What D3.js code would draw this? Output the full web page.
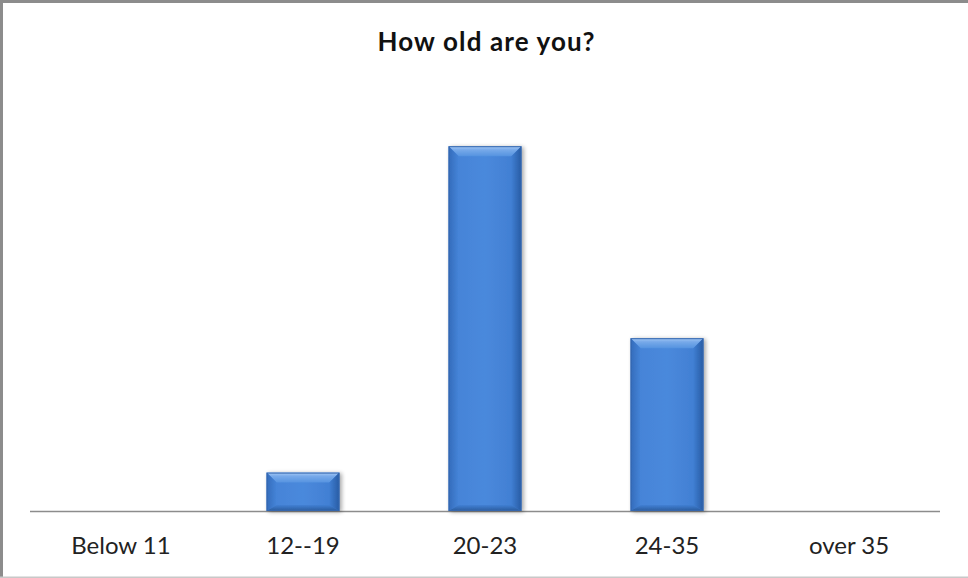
<!DOCTYPE html>
<html><head><meta charset="utf-8">
<script src="https://cdn.jsdelivr.net/npm/d3@7"></script>
<style>body{margin:0;background:#fff}svg{display:block}</style>
</head><body>
<script>
const categories = ["Below 11", "12--19", "20-23", "24-35", "over 35"];
const values = [0, 2, 19, 9, 0];
const title = "How old are you?";

const W = 968, H = 578;
const svg = d3.select("body").append("svg").attr("width", W).attr("height", H);

// frame
svg.append("rect").attr("x",0).attr("y",0).attr("width",W).attr("height",H).attr("fill","#fff");
svg.append("rect").attr("x",0).attr("y",0).attr("width",W).attr("height",3).attr("fill","#8c8c8c");
svg.append("rect").attr("x",0).attr("y",0).attr("width",3).attr("height",H).attr("fill","#8c8c8c");
svg.append("rect").attr("x",0).attr("y",H-1.5).attr("width",W).attr("height",1.5).attr("fill","#c8c8c8");

const x = d3.scaleBand().domain(categories).range([30, 940]).paddingInner(0.6).paddingOuter(0.3);
const y = d3.scaleLinear().domain([0, 20]).range([511, 127]);

const defs = svg.append("defs");
function lin(id, x1,y1,x2,y2, stops){
  const g = defs.append("linearGradient").attr("id",id).attr("x1",x1).attr("y1",y1).attr("x2",x2).attr("y2",y2);
  stops.forEach(s=>g.append("stop").attr("offset",s[0]).attr("stop-color",s[1]));
}
lin("body",0,0,1,0,[[0,"#4482d6"],[0.5,"#4a89dc"],[1,"#3f7cd0"]]);
lin("top",0,0,0,1,[[0,"#a9cbf5"],[0.35,"#78aaea"],[1,"#5593e0"]]);
lin("left",0,0,1,0,[[0,"#2f66b4"],[1,"#4584d8"]]);
lin("right",1,0,0,0,[[0,"#24569c"],[1,"#3f7ed2"]]);
lin("bottom",0,1,0,0,[[0,"#23528f"],[1,"#3f7ed2"]]);
const f = defs.append("filter").attr("id","sh").attr("x","-20%").attr("y","-20%").attr("width","140%").attr("height","140%");
f.append("feGaussianBlur").attr("in","SourceAlpha").attr("stdDeviation",2);
f.append("feOffset").attr("dx",2).attr("dy",1).attr("result","b");
f.append("feComponentTransfer").append("feFuncA").attr("type","linear").attr("slope",0.35);
const m = f.append("feMerge"); m.append("feMergeNode"); m.append("feMergeNode").attr("in","SourceGraphic");

// baseline
svg.append("line").attr("x1",30).attr("x2",940).attr("y1",y(0)+0.5).attr("y2",y(0)+0.5)
  .attr("stroke","#8c8c8c").attr("stroke-width",1.5);

const data = categories.map((c,i)=>({c, v: values[i]})).filter(d=>d.v>0);
const g = svg.append("g");
data.forEach(d=>{
  const x0 = x(d.c), x1 = x0 + x.bandwidth(), y0 = y(d.v), y1 = y(0);
  const b = Math.min(10, (y1-y0)/3);
  const bg = g.append("g").attr("filter","url(#sh)");
  bg.append("rect").attr("x",x0).attr("y",y0).attr("width",x1-x0).attr("height",y1-y0).attr("fill","url(#body)");
  const p = pts => pts.map(q=>q.join(",")).join(" ");
  bg.append("polygon").attr("points",p([[x0,y0],[x1,y0],[x1-b,y0+b],[x0+b,y0+b]])).attr("fill","url(#top)");
  bg.append("polygon").attr("points",p([[x0,y0],[x0+b,y0+b],[x0+b,y1-b*0.6],[x0,y1]])).attr("fill","url(#left)").attr("opacity",0.8);
  bg.append("polygon").attr("points",p([[x1,y0],[x1-b,y0+b],[x1-b,y1-b*0.6],[x1,y1]])).attr("fill","url(#right)").attr("opacity",0.85);
  bg.append("polygon").attr("points",p([[x0,y1],[x0+b,y1-b*0.6],[x1-b,y1-b*0.6],[x1,y1]])).attr("fill","url(#bottom)").attr("opacity",0.8);
  bg.append("rect").attr("x",x0+0.5).attr("y",y0+0.5).attr("width",x1-x0-1).attr("height",y1-y0-1)
    .attr("fill","none").attr("stroke","#3566ad").attr("stroke-width",1);
});

// category labels
svg.append("g").selectAll("text").data(categories).join("text")
  .attr("x", d=>x(d)+x.bandwidth()/2).attr("y",554)
  .attr("text-anchor","middle").attr("font-family","Lato, 'Open Sans', sans-serif")
  .attr("font-size",24).attr("fill","#222").text(d=>d);

svg.append("text").attr("x",486).attr("y",51).attr("text-anchor","middle")
  .attr("font-family","Lato, 'Open Sans', sans-serif").attr("font-weight","bold")
  .attr("font-size",26).attr("textLength",217).attr("lengthAdjust","spacing")
  .attr("fill","#111").text(title);
</script>
</body></html>
